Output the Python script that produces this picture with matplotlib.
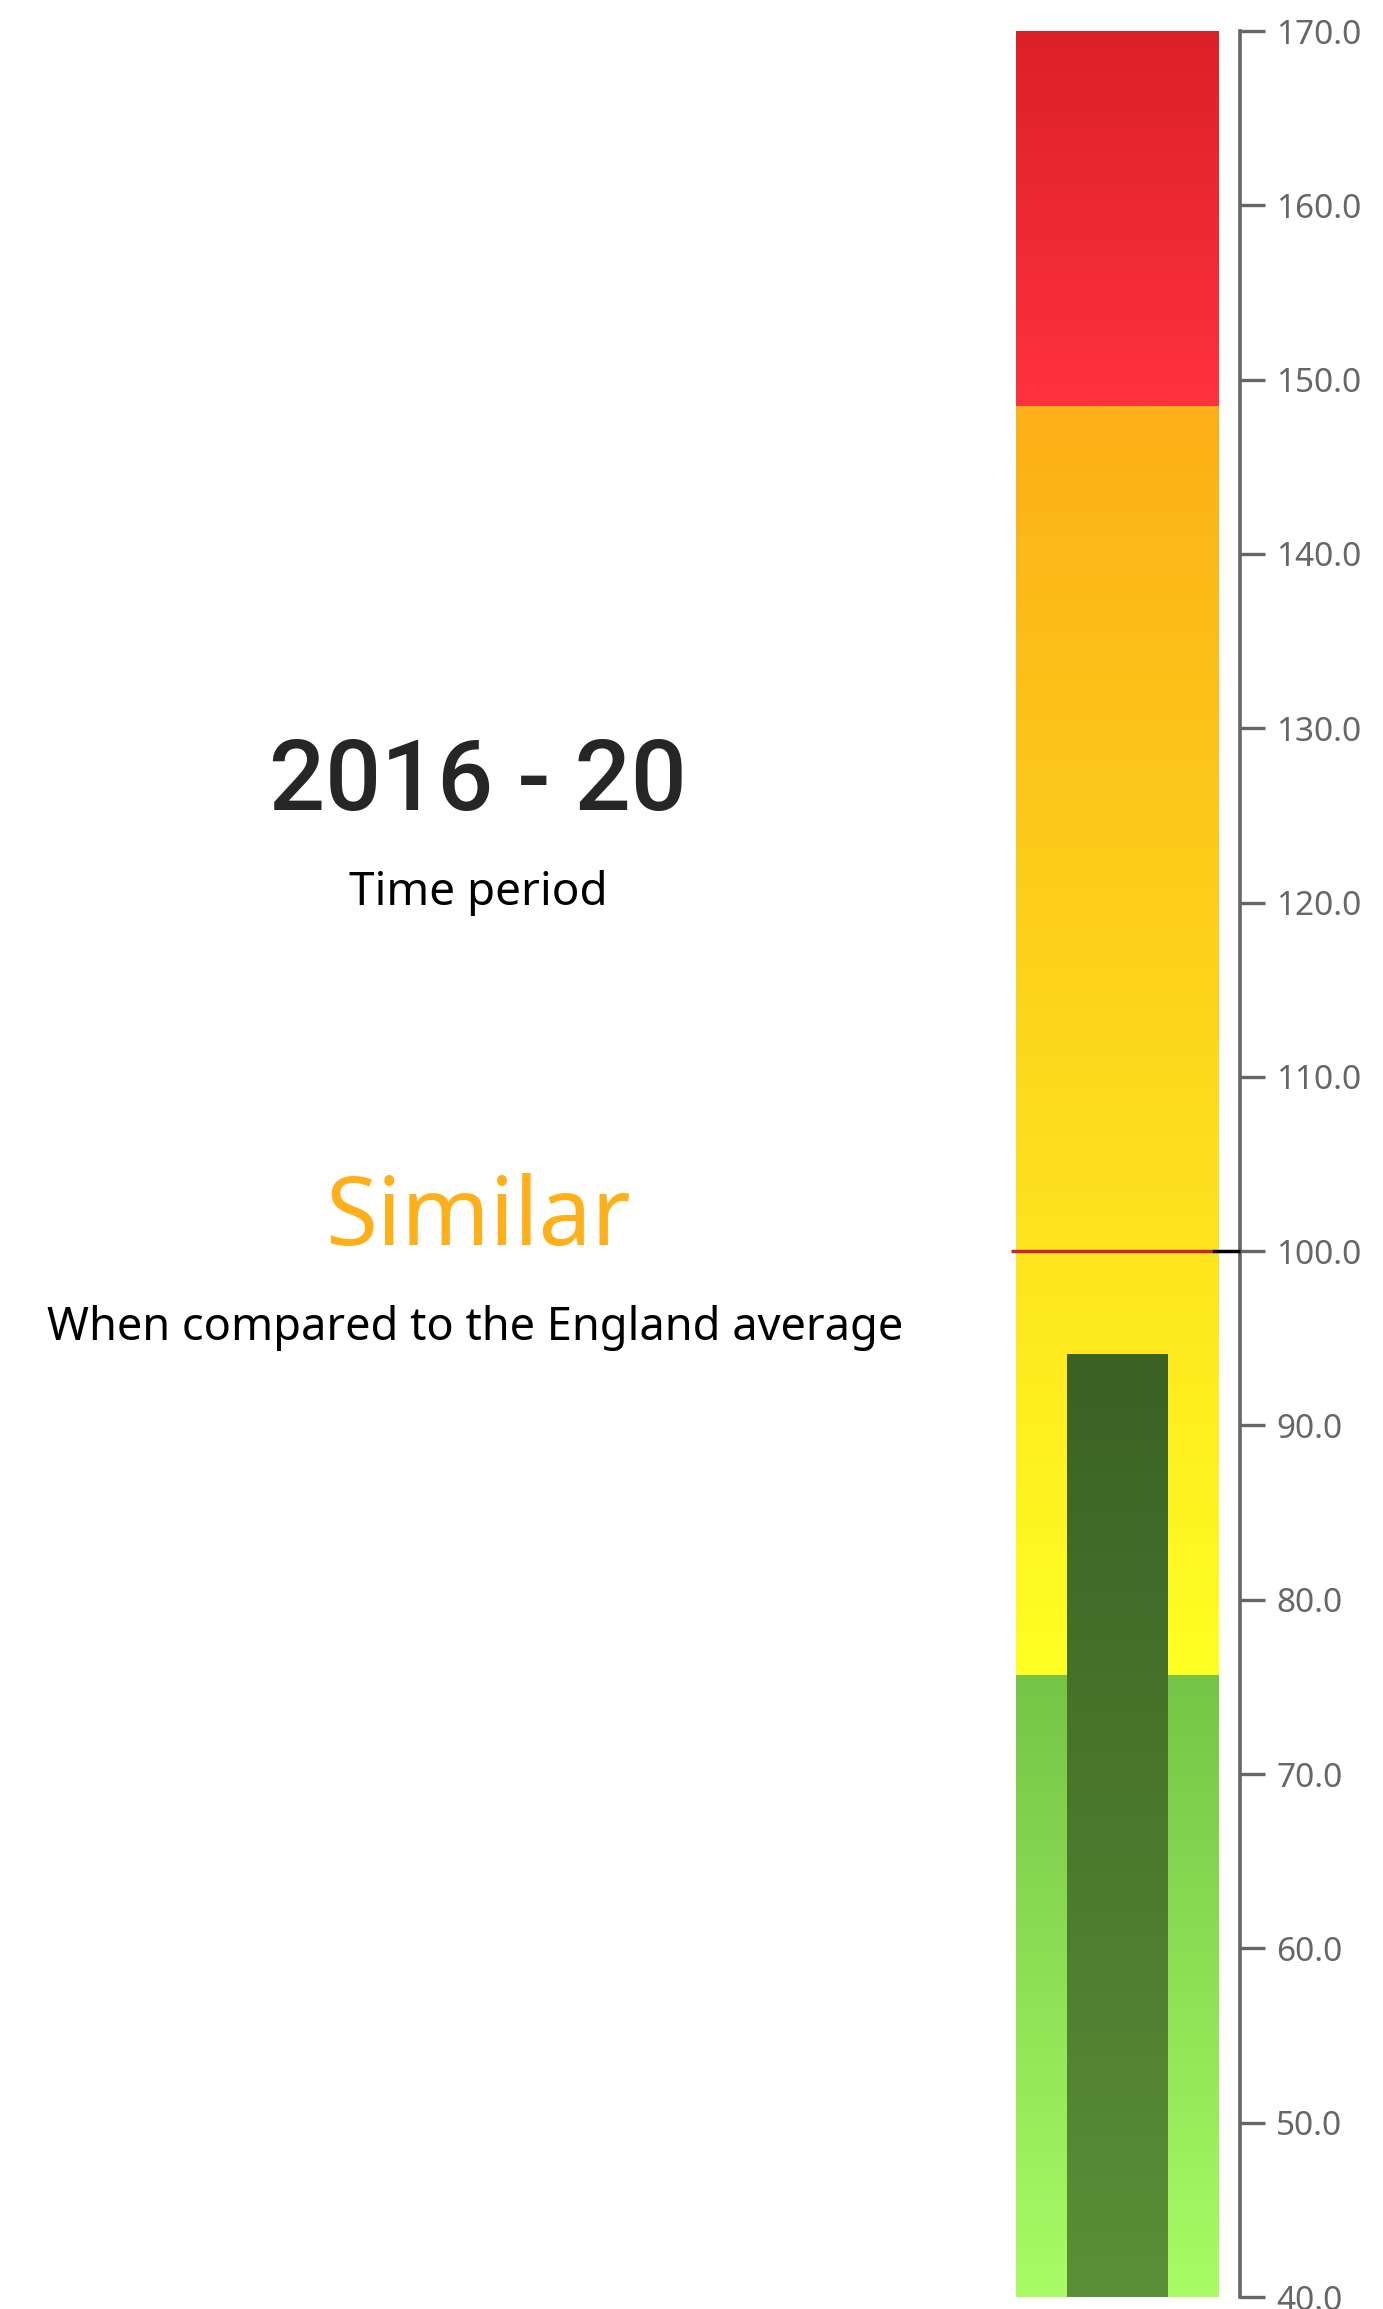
import numpy as np
import matplotlib
matplotlib.use("Agg")
import matplotlib.pyplot as plt
from matplotlib.colors import to_rgb

# ---------------- data ----------------
y_min, y_max = 40.0, 170.0
tick_values = np.arange(40, 171, 10)
band_bounds = [40.0, 75.7, 148.5, 170.0]            # green, amber, red bands
band_top_colors = ["#76C447", "#FCAF17", "#DC2028"]
band_bottom_colors = ["#A9FC64", "#FFFF22", "#FF323E"]
value = 94.1
value_top_color, value_bottom_color = "#3B6123", "#5A9037"
england_avg = 100.0
period_label = "2016 - 20"
period_caption = "Time period"
comparison = "Similar"
comparison_caption = "When compared to the England average"

# ---------------- figure ----------------
W, H, DPI = 1383, 2309, 100
fig = plt.figure(figsize=(W / DPI, H / DPI), dpi=DPI)
fig.patch.set_facecolor("white")

def px(x0, y0, x1, y1):
    """pixel box (top-left origin) -> figure fraction rect"""
    return [x0 / W, 1 - y1 / H, (x1 - x0) / W, (y1 - y0) / H]

ax = fig.add_axes(px(1011, 31, 1240, 2297))
ax.set_xlim(-0.5, 0.5)
ax.set_ylim(y_min, y_max)

band_center, band_width = -0.035, 0.886
inner_width = 0.441

def gradient_bar(x, width, bottom, top, c_top, c_bot, z):
    bars = ax.bar(x, top - bottom, width=width, bottom=bottom,
                  color="none", edgecolor="none", zorder=z)
    patch = bars[0]
    n = 256
    t = np.linspace(0, 1, n)[:, None]
    a, b = np.array(to_rgb(c_bot)), np.array(to_rgb(c_top))
    img = (a * (1 - t) + b * t)[:, None, :]
    im = ax.imshow(img, extent=[x - width / 2, x + width / 2, bottom, top],
                   origin="lower", aspect="auto", interpolation="bilinear",
                   zorder=z)
    im.set_clip_path(patch)

for i in range(len(band_top_colors)):
    gradient_bar(band_center, band_width, band_bounds[i], band_bounds[i + 1],
                 band_top_colors[i], band_bottom_colors[i], 1)

gradient_bar(band_center, inner_width, y_min, value,
             value_top_color, value_bottom_color, 2)

ax.set_xlim(-0.5, 0.5)
ax.set_ylim(y_min, y_max)

# England average reference line
ax.hlines(england_avg, -0.5, 0.378, colors="#C0282E", linewidth=2.5,
          zorder=3, clip_on=False)
ax.hlines(england_avg, 0.378, 0.5, colors="black", linewidth=2.5,
          zorder=3, clip_on=False)

# axis styling
for s in ["left", "top", "bottom"]:
    ax.spines[s].set_visible(False)
ax.spines["right"].set_color("#666666")
ax.spines["right"].set_linewidth(2.6)
ax.yaxis.tick_right()
ax.set_yticks(tick_values)
ax.set_yticklabels([f"{v:.1f}" for v in tick_values])
ax.tick_params(axis="y", direction="out", length=18, width=2.4,
               color="#666666", labelcolor="#666666", labelsize=24, pad=8)
for lbl in ax.get_yticklabels():
    lbl.set_fontfamily("Noto Sans")
ax.set_xticks([])
ax.patch.set_alpha(0)

# ---------------- texts ----------------
cx = 478 / W
fig.text(cx, 1 - 810 / H, period_label, ha="center", va="baseline",
         fontsize=71, fontfamily="Roboto", fontweight="medium", color="#262626")
fig.text(cx, 1 - 905 / H, period_caption, ha="center", va="baseline",
         fontsize=33, fontfamily="Noto Sans", color="black")
fig.text(cx, 1 - 1245 / H, comparison, ha="center", va="baseline",
         fontsize=68, fontfamily="Noto Sans", color="#FDB01A")
fig.text(475 / W, 1 - 1340 / H, comparison_caption, ha="center", va="baseline",
         fontsize=32.5, fontfamily="Noto Sans", color="black")

fig.savefig("out.png", dpi=DPI, facecolor="white")
